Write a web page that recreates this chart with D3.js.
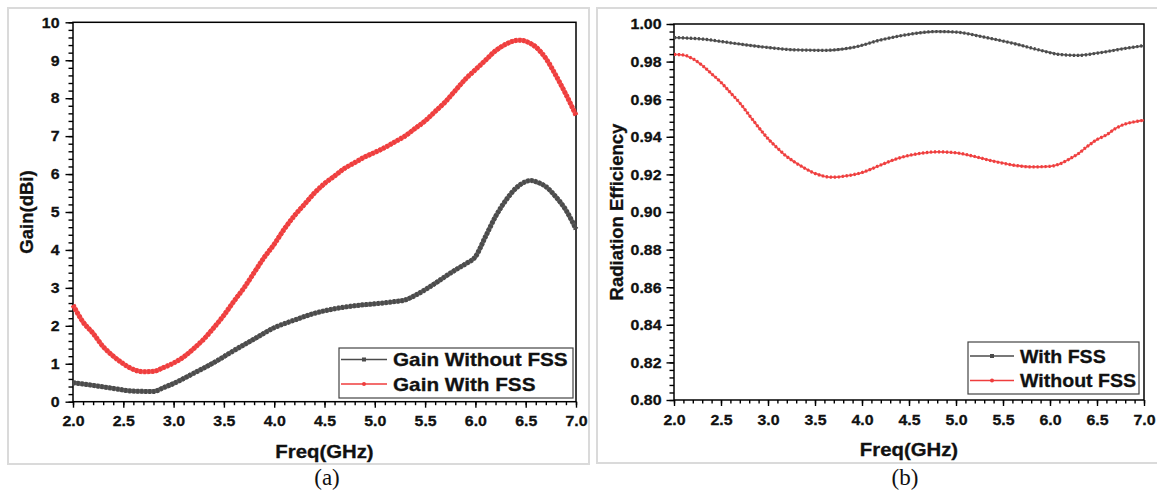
<!DOCTYPE html>
<html>
<head>
<meta charset="utf-8">
<script src="https://cdn.jsdelivr.net/npm/d3@7"></script>
<style>
  body { margin: 0; background: #fff; }
  text { font-family: "Liberation Sans", Arial, sans-serif; font-weight: bold; fill: #111; stroke: #111; stroke-width: 0.3px; }
  .cap { font-family: "Liberation Serif", "Times New Roman", serif; font-weight: normal; font-size: 23px; stroke: none; }
</style>
</head>
<body>
<svg id="chart" width="1157" height="496"></svg>
<script>
// (a) gain data
var gainFreqA = [2.0, 2.2, 2.4, 2.6, 2.8, 2.9, 3.0, 3.2, 3.4, 3.6, 3.8, 4.0, 4.2, 4.4, 4.6, 4.8, 5.0, 5.2, 5.3, 5.4, 5.5, 5.6, 5.7, 5.8, 5.9, 6.0, 6.1, 6.2, 6.3, 6.4, 6.5, 6.55, 6.6, 6.7, 6.8, 6.9, 7.0];
var gainNoFss = [0.50, 0.43, 0.35, 0.28, 0.27, 0.37, 0.48, 0.75, 1.03, 1.35, 1.65, 1.95, 2.15, 2.33, 2.45, 2.53, 2.58, 2.64, 2.68, 2.80, 2.95, 3.12, 3.30, 3.47, 3.63, 3.82, 4.35, 4.88, 5.30, 5.62, 5.80, 5.83, 5.80, 5.67, 5.40, 5.05, 4.55];

var gainFreqB = [2.0, 2.1, 2.2, 2.3, 2.4, 2.5, 2.6, 2.7, 2.8, 2.9, 3.0, 3.1, 3.2, 3.3, 3.4, 3.5, 3.6, 3.7, 3.8, 3.9, 4.0, 4.1, 4.2, 4.3, 4.4, 4.5, 4.6, 4.7, 4.8, 4.9, 5.0, 5.1, 5.2, 5.3, 5.4, 5.5, 5.6, 5.7, 5.8, 5.9, 6.0, 6.1, 6.2, 6.3, 6.4, 6.45, 6.5, 6.6, 6.7, 6.8, 6.9, 7.0];
var gainWithFss = [2.55, 2.10, 1.80, 1.45, 1.20, 1.00, 0.85, 0.79, 0.80, 0.90, 1.02, 1.18, 1.40, 1.65, 1.95, 2.28, 2.65, 3.00, 3.40, 3.80, 4.15, 4.55, 4.90, 5.20, 5.50, 5.75, 5.95, 6.15, 6.30, 6.45, 6.57, 6.70, 6.85, 7.00, 7.20, 7.40, 7.65, 7.90, 8.20, 8.50, 8.75, 9.00, 9.25, 9.42, 9.52, 9.53, 9.50, 9.35, 9.05, 8.60, 8.10, 7.55];

// (b) radiation efficiency data
var effFreqA = [2.0, 2.3, 2.6, 3.0, 3.3, 3.6, 3.9, 4.2, 4.5, 4.8, 5.0, 5.3, 5.6, 5.9, 6.1, 6.3, 6.5, 6.8, 7.0];
var effWithFss = [0.9928, 0.9920, 0.9900, 0.9875, 0.9862, 0.9860, 0.9875, 0.9915, 0.9945, 0.9960, 0.9957, 0.9930, 0.9898, 0.9860, 0.9838, 0.9833, 0.9845, 0.9870, 0.9885];

var effFreqB = [2.0, 2.1, 2.2, 2.3, 2.4, 2.5, 2.6, 2.7, 2.8, 2.9, 3.0, 3.1, 3.2, 3.3, 3.4, 3.5, 3.6, 3.7, 3.8, 3.9, 4.0, 4.2, 4.4, 4.6, 4.8, 5.0, 5.2, 5.4, 5.6, 5.8, 6.0, 6.1, 6.2, 6.3, 6.4, 6.5, 6.6, 6.7, 6.8, 6.9, 7.0];
var effWithoutFss = [0.9838, 0.9835, 0.9815, 0.9780, 0.9735, 0.9690, 0.9635, 0.9580, 0.9515, 0.9450, 0.9390, 0.9340, 0.9295, 0.9260, 0.9230, 0.9205, 0.9190, 0.9185, 0.9190, 0.9198, 0.9210, 0.9250, 0.9288, 0.9310, 0.9320, 0.9315, 0.9295, 0.9270, 0.9250, 0.9240, 0.9243, 0.9255, 0.9280, 0.9310, 0.9350, 0.9385, 0.9410, 0.9445, 0.9468, 0.9480, 0.9488];

// tick values
var freqTicks = [2.0, 2.5, 3.0, 3.5, 4.0, 4.5, 5.0, 5.5, 6.0, 6.5, 7.0];
var gainTicks = [0, 1, 2, 3, 4, 5, 6, 7, 8, 9, 10];
var effTicks = [0.80, 0.82, 0.84, 0.86, 0.88, 0.90, 0.92, 0.94, 0.96, 0.98, 1.00];

var grey = '#4b4b4b',
    red = '#ef3d3d';

var svg = d3.select('#chart');

// panel frames
svg.append('rect').attr('x', 8).attr('y', 8).attr('width', 581).attr('height', 456)
  .style('fill', 'none').style('stroke', '#dadada').style('stroke-width', 2);
svg.append('rect').attr('x', 597).attr('y', 8).attr('width', 580).attr('height', 455)
  .style('fill', 'none').style('stroke', '#dadada').style('stroke-width', 2);

// widen text horizontally like the source image
function stretch(sel, k) {
  sel.each(function() {
    var w = this.getComputedTextLength();
    d3.select(this).attr('textLength', w * k).attr('lengthAdjust', 'spacingAndGlyphs');
  });
}

function minorTicks(lo, hi, step) {
  var out = [];
  var n = Math.round((hi - lo) / step);
  for (var i = 0; i <= n; i++) out.push(lo + i * step);
  return out;
}

function drawPanel(cfg) {
  var x = d3.scaleLinear().domain([2, 7]).range([cfg.left, cfg.right]);
  var y = d3.scaleLinear().domain(cfg.yDomain).range([cfg.bottom, cfg.top]);
  var g = svg.append('g');

  // minor ticks
  g.append('g').attr('transform', 'translate(0,' + cfg.bottom + ')')
    .call(d3.axisBottom(x).tickValues(minorTicks(2, 7, 0.1)).tickSize(3.5).tickFormat(''))
    .call(function(a) { a.select('.domain').remove(); });
  g.append('g').attr('transform', 'translate(' + cfg.left + ',0)')
    .call(d3.axisLeft(y).tickValues(minorTicks(cfg.yDomain[0], cfg.yDomain[1], cfg.yMinor)).tickSize(4.5).tickFormat(''))
    .call(function(a) { a.select('.domain').remove(); });

  // major ticks
  var xa = g.append('g').attr('transform', 'translate(0,' + cfg.bottom + ')')
    .call(d3.axisBottom(x).tickValues(freqTicks).tickSize(6).tickPadding(8).tickFormat(d3.format('.1f')));
  var ya = g.append('g').attr('transform', 'translate(' + cfg.left + ',0)')
    .call(d3.axisLeft(y).tickValues(cfg.yTicks).tickSize(7.5).tickPadding(cfg.yPad).tickFormat(cfg.yFormat));
  g.selectAll('.domain').remove();
  g.selectAll('.tick line').style('stroke', '#000').style('stroke-width', 1.4);
  g.selectAll('.tick text').style('font-size', '15px').style('font-family', '"Liberation Sans", Arial, sans-serif').style('fill', '#111');
  stretch(xa.selectAll('.tick text'), 1.06);
  stretch(ya.selectAll('.tick text'), 1.06);

  // frame
  g.append('rect').attr('x', cfg.left).attr('y', cfg.top)
    .attr('width', cfg.right - cfg.left).attr('height', cfg.bottom - cfg.top)
    .style('fill', 'none').style('stroke', '#000').style('stroke-width', 1.5);

  // series
  cfg.series.forEach(function(s) {
    var pts = s.fx.map(function(f, i) { return [f, s.vals[i]]; });
    var line = d3.line()
      .x(function(d) { return x(d[0]); })
      .y(function(d) { return y(d[1]); })
      .curve(d3.curveMonotoneX);
    g.append('path').datum(pts).attr('d', line)
      .style('fill', 'none').style('stroke', s.color).style('stroke-width', cfg.lineW)
      .style('opacity', 0.92);
    // dense marker texture
    g.append('path').datum(pts).attr('d', line)
      .style('fill', 'none').style('stroke', s.color).style('stroke-width', cfg.markW)
      .style('stroke-dasharray', cfg.dash);
  });

  // axis titles
  var xt = g.append('text').attr('x', (cfg.left + cfg.right) / 2).attr('y', cfg.xTitleY)
    .attr('text-anchor', 'middle').style('font-size', '18px').text('Freq(GHz)');
  stretch(xt, 1.13);
  g.append('text').attr('transform', 'translate(' + cfg.yTitleX + ',' + (cfg.top + cfg.bottom) / 2 + ') rotate(-90)')
    .attr('text-anchor', 'middle').style('font-size', '18.5px').text(cfg.yTitle);

  // caption
  g.append('text').attr('class', 'cap').attr('x', cfg.capX).attr('y', 485)
    .attr('text-anchor', 'middle').text(cfg.caption);

  // legend
  var L = cfg.legend;
  g.append('rect').attr('x', L.x).attr('y', L.y).attr('width', L.w).attr('height', L.h)
    .style('fill', '#fff').style('stroke', '#444').style('stroke-width', 1.2);
  cfg.series.forEach(function(s, i) {
    var ly = L.y + L.first + i * L.gap;
    g.append('line').attr('x1', L.x + 2).attr('x2', L.x + L.sample).attr('y1', ly).attr('y2', ly)
      .style('stroke', s.color).style('stroke-width', 1.6);
    var mx = L.x + 2 + (L.sample - 2) / 2;
    if (s.marker === 'square') {
      g.append('rect').attr('x', mx - 2).attr('y', ly - 2).attr('width', 4).attr('height', 4).style('fill', s.color);
    } else {
      g.append('circle').attr('cx', mx).attr('cy', ly).attr('r', 2).style('fill', s.color);
    }
    var t = g.append('text').attr('x', L.x + L.sample + 6).attr('y', ly + 6.8)
      .style('font-size', '19px').text(s.name);
    stretch(t, L.k);
  });
}

drawPanel({
  left: 73, right: 576, top: 22.3, bottom: 401.7,
  yDomain: [0, 10], yTicks: gainTicks, yMinor: 0.2, yFormat: d3.format('d'), yPad: 6,
  lineW: 4.2, markW: 5, dash: '2.5,1.5',
  xTitleY: 458, yTitleX: 33, yTitle: 'Gain(dBi)', capX: 327, caption: '(a)',
  series: [
    { name: 'Gain Without FSS', fx: gainFreqA, vals: gainNoFss, color: grey, marker: 'square' },
    { name: 'Gain With FSS', fx: gainFreqB, vals: gainWithFss, color: red, marker: 'dot' }
  ],
  legend: { x: 339, y: 348, w: 234, h: 50, sample: 48, first: 11.5, gap: 24.5, k: 1.09 }
});

drawPanel({
  left: 674, right: 1144, top: 24, bottom: 400,
  yDomain: [0.8, 1.0], yTicks: effTicks, yMinor: 0.004, yFormat: d3.format('.2f'), yPad: 5,
  lineW: 1.8, markW: 3.2, dash: '2,2',
  xTitleY: 456, yTitleX: 623, yTitle: 'Radiation Efficiency', capX: 905, caption: '(b)',
  series: [
    { name: 'With FSS', fx: effFreqA, vals: effWithFss, color: grey, marker: 'square' },
    { name: 'Without FSS', fx: effFreqB, vals: effWithoutFss, color: red, marker: 'dot' }
  ],
  legend: { x: 968, y: 342, w: 171, h: 52, sample: 46, first: 14, gap: 24.5, k: 1.03 }
});
</script>
</body>
</html>
